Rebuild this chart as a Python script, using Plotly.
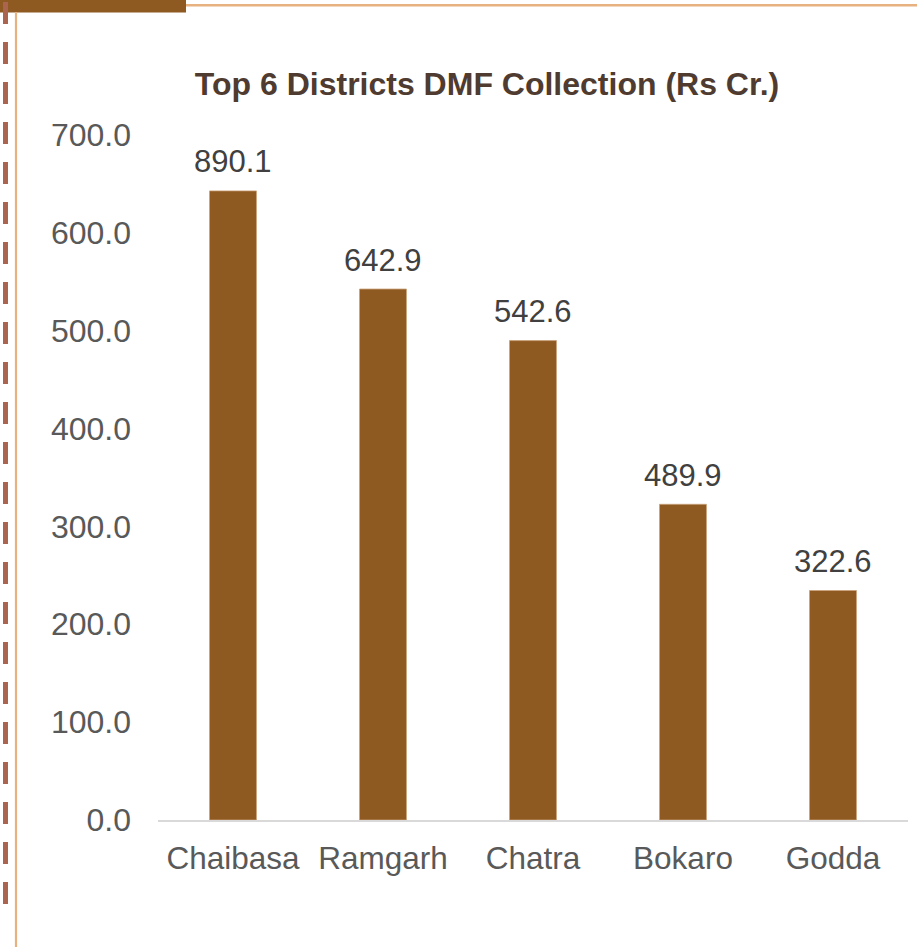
import plotly.graph_objects as go

categories = ["Chaibasa", "Ramgarh", "Chatra", "Bokaro", "Godda"]
bar_values = [642.9, 542.6, 489.9, 322.6, 234.5]
bar_labels = ["890.1", "642.9", "542.6", "489.9", "322.6"]
y_ticks = [0, 100, 200, 300, 400, 500, 600, 700]
y_tick_labels = ["0.0", "100.0", "200.0", "300.0", "400.0", "500.0", "600.0", "700.0"]

W, H = 917, 947
L, R, T, B = 158, 9, 135, 127
PW, PH = W - L - R, H - T - B

def px(x):
    return (x - L) / PW

def py(y):
    return 1 - (y - T) / PH

FONT = "Liberation Sans, Arial, sans-serif"
BROWN = "#8F5922"
TAN = "#E8B280"

fig = go.Figure()
fig.add_trace(go.Bar(
    x=categories, y=bar_values,
    marker=dict(color=BROWN, line=dict(color="#C9A27A", width=0.8)),
    width=0.313,
    hoverinfo="skip",
))

for c, v, t in zip(categories, bar_values, bar_labels):
    fig.add_annotation(x=c, y=v, text=t, showarrow=False, yanchor="middle",
                       yshift=29, font=dict(family=FONT, size=31, color="#404040"))

shapes = [
    # top-left brown block
    dict(type="rect", xref="paper", yref="paper", x0=px(0), x1=px(186), y0=py(0), y1=py(12.5),
         fillcolor=BROWN, line=dict(width=0), layer="above"),
    # top tan line
    dict(type="line", xref="paper", yref="paper", x0=px(186), x1=px(917), y0=py(5.2), y1=py(5.2),
         line=dict(color=TAN, width=2.5)),
    # left solid tan line
    dict(type="line", xref="paper", yref="paper", x0=px(16), x1=px(16), y0=py(12), y1=py(947),
         line=dict(color=TAN, width=2.2)),
    # left dashed line
    dict(type="line", xref="paper", yref="paper", x0=px(5.5), x1=px(5.5), y0=py(2), y1=py(911),
         line=dict(color="#AA6450", width=5, dash="22px,18px")),
]

fig.update_layout(
    width=W, height=H,
    margin=dict(l=L, r=R, t=T, b=B, pad=0),
    paper_bgcolor="white", plot_bgcolor="white",
    showlegend=False,
    shapes=shapes,
    title=dict(text="<b>Top 6 Districts DMF Collection (Rs Cr.)</b>",
               x=487 / W, xanchor="center", xref="container",
               y=1 - 84 / H, yanchor="middle", yref="container",
               font=dict(family=FONT, size=32, color="#4F3B2F")),
    xaxis=dict(showgrid=False, showline=True, linecolor="#D9D9D9", linewidth=1.5,
               ticks="", tickfont=dict(family=FONT, size=31.5, color="#595959"),
               ticklabelstandoff=10, fixedrange=True),
    yaxis=dict(range=[0, 700], tickvals=y_ticks, ticktext=y_tick_labels,
               showgrid=False, zeroline=False, showline=False, ticks="",
               tickfont=dict(family=FONT, size=32, color="#595959"),
               ticklabelstandoff=26, fixedrange=True),
)

fig.write_html("out.html",
               config={"displayModeBar": False, "staticPlot": True},
               post_script="document.body.style.margin='0';document.body.style.overflow='hidden';")
